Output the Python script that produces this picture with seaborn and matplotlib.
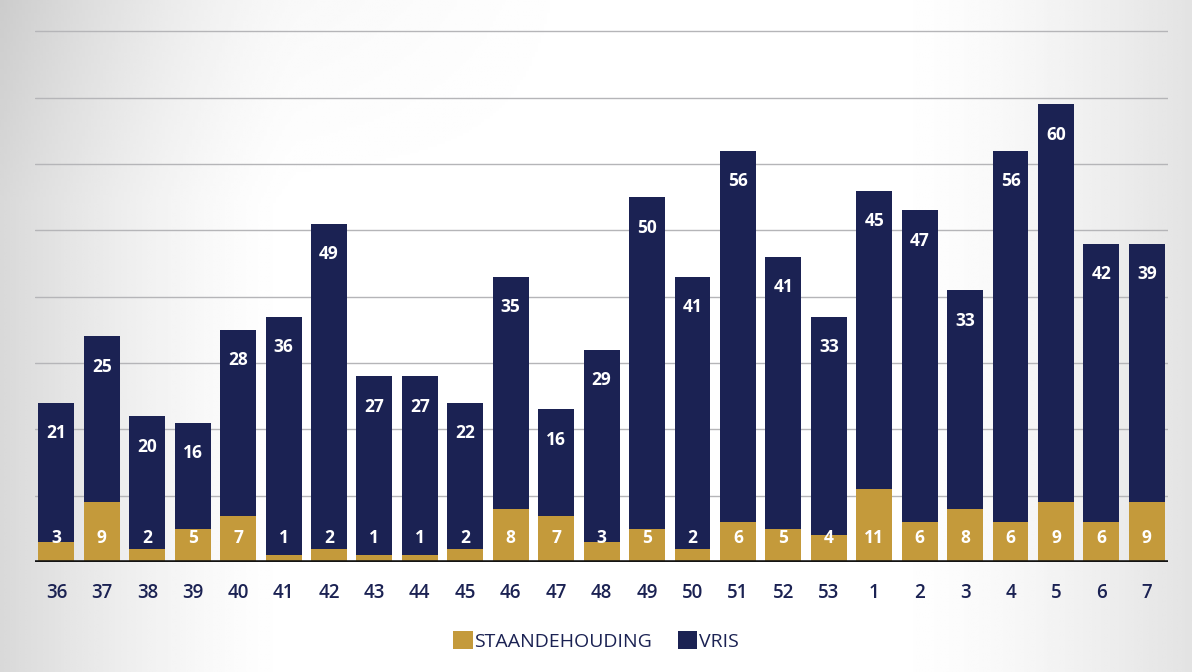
import numpy as np
import pandas as pd
import matplotlib
matplotlib.use("Agg")
import matplotlib.pyplot as plt
from matplotlib.patches import Patch
import seaborn as sns

# Week numbers and weekly counts per category
weeks = ["36", "37", "38", "39", "40", "41", "42", "43", "44", "45", "46", "47", "48",
         "49", "50", "51", "52", "53", "1", "2", "3", "4", "5", "6", "7"]
staandehouding = [3, 9, 2, 5, 7, 1, 2, 1, 1, 2, 8, 7, 3, 5, 2, 6, 5, 4, 11, 6, 8, 6, 9, 6, 9]
vris = [21, 25, 20, 16, 28, 36, 49, 27, 27, 22, 35, 16, 29, 50, 41, 56, 41, 33, 45, 47, 33, 56, 60, 42, 39]

NAVY = "#1b2253"
GOLD = "#c49a3b"

sns.set_theme(style="white")
plt.rcParams["font.family"] = ["Open Sans", "DejaVu Sans"]

df = pd.DataFrame({"week": weeks, "staande": staandehouding, "vris": vris})
df["total"] = df["staande"] + df["vris"]

fig = plt.figure(figsize=(11.92, 6.72), dpi=100)

# soft vignette behind the chart
bg = fig.add_axes([0, 0, 1, 1], zorder=-10)
xx = np.linspace(0, 1, 400)
yy = np.linspace(0, 1, 240)
X, Y = np.meshgrid(xx, yy)
shade = 0.15 * np.clip(1 - X / 0.25, 0, 1) ** 1.5 + 0.11 * np.clip((X - 0.74) / 0.26, 0, 1) ** 1.5
shade += 0.05 * np.clip(1 - Y / 0.3, 0, 1) * np.clip(1 - X / 0.5, 0, 1)
img = 1 - shade
bg.imshow(img, cmap="gray", vmin=0, vmax=1, extent=[0, 1, 0, 1], aspect="auto", origin="upper")
bg.set_axis_off()

ax = fig.add_axes([0.0294, 0.1637, 0.9506, 0.8093])
ax.patch.set_alpha(0)

sns.barplot(data=df, x="week", y="total", color=NAVY, width=0.79, saturation=1,
            ax=ax, zorder=3, edgecolor="none")
sns.barplot(data=df, x="week", y="staande", color=GOLD, width=0.79, saturation=1,
            ax=ax, zorder=4, edgecolor="none")

ax.set_ylim(0, 82)
ax.set_xlim(-0.47, len(weeks) - 0.53)
ax.set_yticks(np.arange(10, 81, 10))
ax.yaxis.grid(True, color="#b5b5b8", linewidth=1.0, zorder=0)
ax.set_axisbelow(True)
ax.set_yticklabels([])
ax.tick_params(axis="y", length=0)
ax.tick_params(axis="x", length=0, pad=15, labelsize=13.5, labelcolor=NAVY)
for lbl in ax.get_xticklabels():
    lbl.set_fontweight("semibold")
ax.set_xlabel("")
ax.set_ylabel("")
for s in ax.spines.values():
    s.set_visible(False)
ax.axhline(0, color="#141414", linewidth=2.6, zorder=5)

for i, (g, v, t) in enumerate(zip(staandehouding, vris, df["total"])):
    ax.annotate(str(v), xy=(i, t), xytext=(0, -22), textcoords="offset points",
                ha="center", va="center", color="white", fontsize=12.5,
                fontweight="bold", zorder=6)
    ax.annotate(str(g), xy=(i, 0), xytext=(0, 17), textcoords="offset points",
                ha="center", va="center", color="white", fontsize=12.5,
                fontweight="bold", zorder=6)

handles = [Patch(facecolor=GOLD, edgecolor="none", label="STAANDEHOUDING"),
           Patch(facecolor=NAVY, edgecolor="none", label="VRIS")]
fig.legend(handles=handles, loc="center", bbox_to_anchor=(0.5, 0.046), ncol=2,
           frameon=False, fontsize=14, handlelength=1.0, handleheight=1.0,
           handletextpad=0.1, columnspacing=1.3, labelcolor=NAVY)

fig.savefig("out.png", dpi=100)
